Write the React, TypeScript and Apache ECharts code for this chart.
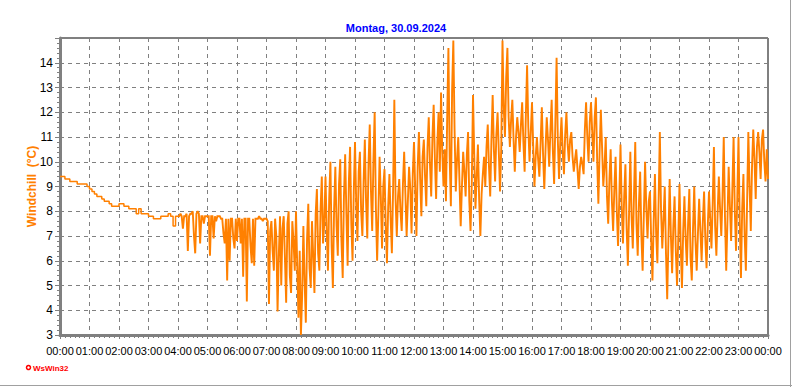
import React, { useEffect, useRef } from "react";
import * as echarts from "echarts";

// Chart title and axis texts
const titleText = "Montag, 30.09.2024";
const yAxisName = "Windchill  (°C)";
const watermarkText = "WsWin32";

// Calm night part 00:00-04:00, 5-minute samples (°C)
const calmStep = 5;
const h00 = [9.4, 9.4, 9.3, 9.3, 9.2, 9.2, 9.2, 9.1, 9.1, 9.1, 9.1, 9.0];
const h01 = [8.9, 8.8, 8.7, 8.6, 8.6, 8.5, 8.4, 8.4, 8.3, 8.2, 8.2, 8.2];
const h02 = [8.3, 8.3, 8.2, 8.2, 8.1, 8.1, 8.1, 7.9, 8.1, 7.9, 7.9, 7.9];
const h03 = [7.8, 7.8, 7.7, 7.7, 7.7, 7.8, 7.8, 7.8, 7.9, 7.8, 7.4, 7.8];

// Gusty part 04:00-24:00, 2.5-minute samples (°C)
const gustyStart = 240;
const gustyStep = 2.5;
const g04 = [7.8, 7.8, 7.9, 7.8, 7.3, 7.8, 7.8, 7.9, 6.4, 7.8, 7.9, 7.9, 8.0, 7.0, 6.3, 7.9, 8.0, 7.9, 6.7, 7.8, 7.8, 7.5, 7.8, 7.8];
const g05 = [7.8, 7.8, 6.2, 7.8, 7.8, 6.9, 7.8, 7.6, 7.8, 7.8, 7.8, 7.7, 7.7, 7.1, 6.7, 7.7, 5.2, 7.7, 6.0, 7.7, 7.7, 6.9, 6.5, 7.7];
const g06 = [6.8, 7.7, 7.7, 6.7, 7.7, 5.35, 7.7, 7.7, 4.35, 7.7, 7.7, 6.6, 5.9, 7.7, 5.8, 7.7, 7.7, 7.7, 7.8, 7.7, 7.7, 7.6, 7.7, 7.7];
const g07 = [7.7, 7.6, 4.25, 7.2, 7.6, 6.4, 5.6, 7.7, 7.0, 3.95, 6.2, 7.8, 5.0, 7.3, 7.8, 6.1, 4.3, 7.5, 8.0, 5.4, 4.7, 7.6, 6.8, 5.6];
const g08 = [8.0, 5.8, 3.7, 6.4, 3.0, 4.6, 7.4, 5.2, 3.5, 6.9, 8.3, 5.7, 4.9, 7.6, 6.2, 4.7, 7.9, 8.9, 6.3, 5.6, 8.1, 9.4, 6.7, 7.5];
const g09 = [9.4, 7.2, 5.6, 8.5, 10.0, 6.6, 4.9, 8.1, 9.8, 7.4, 6.2, 9.1, 10.1, 6.8, 5.3, 8.6, 10.3, 7.9, 5.8, 9.2, 10.6, 7.5, 6.0, 8.8];
const g10 = [10.8, 8.3, 6.8, 9.6, 10.4, 8.0, 7.0, 9.2, 10.9, 8.4, 6.9, 9.9, 11.5, 8.8, 7.2, 10.1, 12.0, 8.1, 6.0, 7.9, 10.2, 8.6, 6.5, 9.0];
const g11 = [9.7, 7.4, 5.9, 8.2, 9.5, 7.7, 6.3, 8.9, 12.5, 8.5, 7.0, 8.6, 9.3, 8.0, 7.2, 9.1, 10.4, 8.7, 7.0, 8.4, 9.8, 8.9, 7.1, 9.5];
const g12 = [10.8, 8.9, 7.0, 9.8, 11.2, 9.3, 7.8, 10.2, 10.9, 9.4, 8.2, 10.6, 11.8, 9.9, 8.6, 11.0, 12.3, 10.1, 8.5, 10.8, 12.0, 9.6, 12.8, 10.4];
const g13 = [9.0, 10.5, 8.4, 11.8, 14.6, 10.2, 8.2, 12.9, 14.9, 11.3, 8.8, 10.1, 11.0, 9.2, 7.4, 9.0, 10.4, 9.6, 8.6, 10.3, 11.2, 8.4, 7.2, 9.1];
const g14 = [12.7, 10.3, 8.1, 9.4, 10.7, 8.5, 7.0, 8.7, 9.5, 10.2, 9.0, 10.6, 11.5, 9.8, 8.6, 10.9, 12.7, 10.5, 9.2, 11.1, 12.0, 10.4, 8.8, 10.6];
const g15 = [14.9, 12.2, 11.0, 13.4, 14.6, 11.8, 10.6, 11.7, 12.5, 10.9, 9.6, 11.0, 11.8, 11.2, 10.4, 11.5, 12.4, 10.8, 9.6, 11.9, 13.9, 11.4, 10.0, 11.2];
const g16 = [12.4, 10.6, 9.0, 10.2, 11.0, 10.1, 9.4, 10.8, 12.2, 10.3, 8.9, 10.5, 11.8, 10.9, 9.8, 11.3, 12.5, 10.4, 9.1, 11.6, 14.2, 10.9, 9.3, 10.8];
const g17 = [11.8, 10.4, 9.5, 11.1, 12.0, 10.7, 10.0, 10.9, 11.2, 10.2, 9.6, 10.1, 10.5, 9.7, 8.9, 9.8, 10.2, 9.9, 9.5, 11.3, 12.4, 11.0, 10.0, 11.6];
const g18 = [12.4, 11.2, 10.0, 11.8, 12.6, 10.1, 8.3, 10.4, 12.1, 10.6, 9.0, 9.8, 11.0, 8.6, 7.5, 9.3, 10.5, 8.4, 7.2, 8.9, 10.2, 8.0, 6.6, 8.5];
const g19 = [10.7, 8.2, 6.7, 8.6, 9.9, 7.3, 5.8, 8.0, 10.4, 7.8, 6.5, 8.7, 10.8, 7.5, 6.2, 8.3, 9.6, 7.0, 5.6, 7.9, 10.0, 8.1, 6.9, 8.4];
const g20 = [8.8, 6.8, 5.2, 7.6, 9.5, 7.1, 5.9, 8.4, 11.2, 8.0, 6.5, 7.7, 9.0, 6.3, 4.45, 6.9, 9.3, 7.0, 5.5, 7.4, 8.6, 6.4, 5.0, 6.9];
const g21 = [9.1, 6.6, 4.9, 7.2, 8.6, 6.9, 5.8, 7.5, 8.9, 6.1, 5.2, 7.3, 9.0, 6.8, 5.6, 7.1, 8.5, 7.2, 6.0, 7.6, 8.8, 6.9, 5.7, 7.4];
const g22 = [8.8, 7.7, 6.5, 8.3, 10.6, 7.4, 6.2, 7.9, 9.4, 8.1, 7.0, 8.6, 11.0, 7.8, 5.6, 7.6, 9.8, 8.2, 6.8, 8.9, 11.0, 8.0, 6.4, 8.5];
const g23 = [11.0, 7.6, 5.3, 8.1, 9.5, 7.0, 5.6, 8.4, 11.2, 9.0, 7.2, 9.8, 11.3, 10.1, 8.5, 10.6, 11.2, 10.4, 9.3, 10.9, 11.3, 10.0, 9.2, 10.5];
const g24 = [9.3];

const calmValues = [...h00, ...h01, ...h02, ...h03];
const gustyValues = [
  ...g04, ...g05, ...g06, ...g07, ...g08, ...g09, ...g10, ...g11, ...g12, ...g13,
  ...g14, ...g15, ...g16, ...g17, ...g18, ...g19, ...g20, ...g21, ...g22, ...g23, ...g24,
];

const FONT = "'Liberation Sans', Arial, sans-serif";
const LINE_COLOR = "#ff8000";

function hourLabel(v: number): string {
  const h = Math.round(v / 60) % 24;
  return (h < 10 ? "0" : "") + h + ":00";
}

export default function App() {
  const ref = useRef<HTMLDivElement>(null);

  useEffect(() => {
    if (!ref.current) return;
    const chart = echarts.init(ref.current, undefined, { renderer: "svg" });
    const calm = calmValues.map((v, i) => [i * calmStep, v]);
    calm.push([gustyStart, gustyValues[0]]);
    const gusty = gustyValues.map((v, i) => [gustyStart + i * gustyStep, v]);
    chart.setOption({
      animation: false,
      backgroundColor: "#ffffff",
      title: {
        text: titleText,
        left: "center",
        top: 17,
        textStyle: { color: "#0000ff", fontSize: 11, fontWeight: "bold", fontFamily: FONT },
      },
      grid: {
        left: 60,
        right: 24,
        top: 38,
        bottom: 52,
        show: true,
        borderColor: "#000000",
        borderWidth: 1,
        backgroundColor: "#ffffff",
      },
      xAxis: {
        type: "value",
        min: 0,
        max: 1440,
        interval: 60,
        axisLine: { show: true, lineStyle: { color: "#808080", width: 3 } },
        axisTick: { show: true, length: 4, lineStyle: { color: "#808080", width: 1 } },
        minorTick: { show: true, splitNumber: 6, length: 3, lineStyle: { color: "#808080", width: 1 } },
        axisLabel: {
          color: "#000000",
          fontSize: 11,
          fontFamily: FONT,
          margin: 10,
          formatter: hourLabel,
        },
        splitLine: { show: true, lineStyle: { color: "#808080", width: 1, type: [4, 4] } },
      },
      yAxis: {
        type: "value",
        min: 3,
        max: 15,
        interval: 1,
        name: yAxisName,
        nameLocation: "middle",
        nameGap: 22,
        nameMoveOverlap: false,
        nameTextStyle: { color: LINE_COLOR, fontSize: 12, fontWeight: "bold", fontFamily: FONT },
        axisLine: { show: true, lineStyle: { color: "#808080", width: 3 } },
        axisTick: { show: true, length: 5, lineStyle: { color: "#808080", width: 1 } },
        minorTick: { show: true, splitNumber: 5, length: 3, lineStyle: { color: "#808080", width: 1 } },
        axisLabel: {
          color: "#000000",
          fontSize: 12,
          fontFamily: FONT,
          margin: 7,
          formatter: (v: number) => (v >= 15 ? "" : String(v)),
        },
        splitLine: { show: true, lineStyle: { color: "#808080", width: 1, type: [4, 4] } },
      },
      series: [
        {
          type: "line",
          data: calm,
          step: "end",
          showSymbol: false,
          symbol: "none",
          lineStyle: { color: LINE_COLOR, width: 1.5 },
          z: 3,
        },
        {
          type: "line",
          data: gusty,
          showSymbol: false,
          symbol: "none",
          lineStyle: { color: LINE_COLOR, width: 1.9, join: "miter", miterLimit: 2 },
          z: 3,
        },
      ],
      graphic: [
        { type: "line", shape: { x1: 0, y1: 385.5, x2: 792, y2: 385.5 }, style: { stroke: "#a0a0a0", lineWidth: 1 } },
        { type: "line", shape: { x1: 790.5, y1: 0, x2: 790.5, y2: 387 }, style: { stroke: "#a0a0a0", lineWidth: 1 } },
        { type: "circle", shape: { cx: 28.5, cy: 367.5, r: 2 }, style: { fill: "#ffffff", stroke: "#ff0000", lineWidth: 1.5 } },
        {
          type: "text",
          x: 33,
          y: 368,
          style: {
            text: watermarkText,
            fill: "#ff0000",
            font: "bold 8px " + FONT,
            textVerticalAlign: "middle",
            verticalAlign: "middle",
          },
        },
      ],
    });
    return () => chart.dispose();
  }, []);

  return (
    <div
      ref={ref}
      style={{ position: "fixed", left: 0, top: 0, width: 792, height: 387, background: "#ffffff" }}
    />
  );
}
